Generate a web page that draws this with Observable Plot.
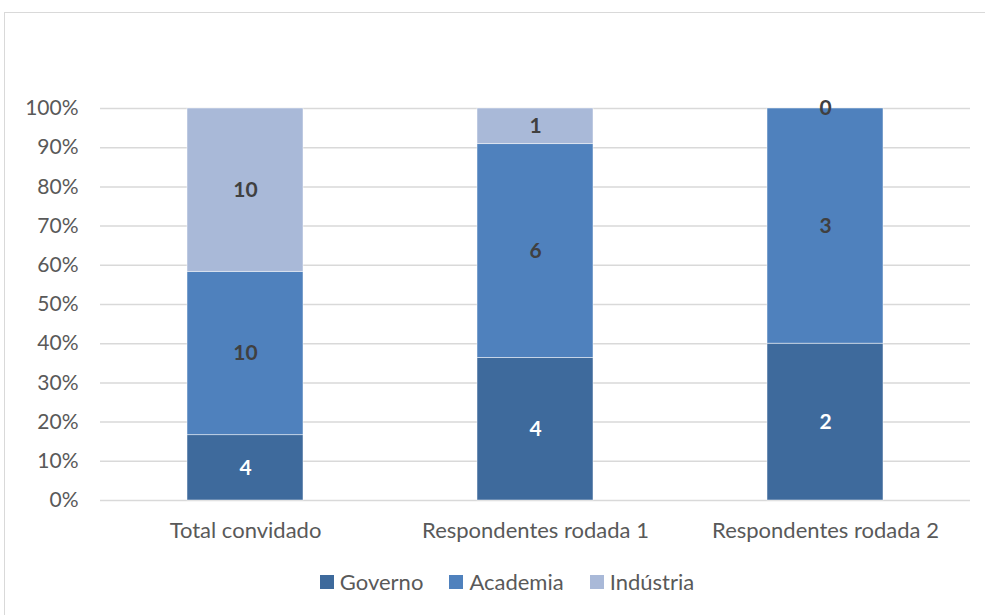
<!DOCTYPE html>
<html>
<head>
<meta charset="utf-8">
<script src="https://cdn.jsdelivr.net/npm/d3@7"></script>
<script src="https://cdn.jsdelivr.net/npm/@observablehq/plot@0.6"></script>
<style>
  html, body { margin: 0; padding: 0; background: #fff; }
  body { width: 985px; height: 615px; position: relative; overflow: hidden; font-family: Lato, "Open Sans", sans-serif; }
  #frame { position: absolute; left: 4px; top: 12px; width: 1000px; height: 620px; border: 1.5px solid #d9d9d9; box-sizing: border-box; }
  #chart { position: absolute; left: 0; top: 0; }
  #legend { position: absolute; top: 568px; left: 0; width: 1014px; display: flex; justify-content: center; gap: 26px; font-size: 22px; color: #595959; }
  #legend .item { display: flex; align-items: center; gap: 6px; }
  #legend .sw { width: 14px; height: 14px; display: inline-block; }
</style>
</head>
<body>
<div id="frame"></div>
<div id="chart"></div>
<div id="legend"></div>
<script>
const categories = ["Total convidado", "Respondentes rodada 1", "Respondentes rodada 2"];
const seriesNames = ["Governo", "Academia", "Indústria"];
const governo = [4, 4, 2];
const academia = [10, 6, 3];
const industria = [10, 1, 0];
const colors = ["#3E6A9C", "#4F81BD", "#A9B9D8"];
const labelColors = ["#ffffff", "#404040", "#404040"];
const yTicks = [0, 0.1, 0.2, 0.3, 0.4, 0.5, 0.6, 0.7, 0.8, 0.9, 1.0];

const seriesValues = [governo, academia, industria];
const data = [];
seriesNames.forEach((s, si) => {
  categories.forEach((c, ci) => {
    data.push({category: c, series: s, value: seriesValues[si][ci], si});
  });
});

const plot = Plot.plot({
  width: 985,
  height: 545,
  marginTop: 108,
  marginBottom: 45,
  marginLeft: 100,
  marginRight: 15,
  style: {fontFamily: "Lato, 'Open Sans', sans-serif", color: "#595959", background: "transparent"},
  x: {domain: categories, paddingInner: 0.6, paddingOuter: 0.3, label: null, axis: null},
  y: {domain: [0, 1], label: null, axis: null},
  color: {domain: seriesNames, range: colors},
  marks: [
    Plot.ruleY(yTicks, {stroke: "#d9d9d9", strokeWidth: 1.5}),
    Plot.barY(data, Plot.stackY({offset: "normalize", order: null}, {
      x: "category", y: "value", fill: "series", stroke: "#ffffff", strokeWidth: 0.8, strokeOpacity: 0.6
    })),
    Plot.text(data, Plot.stackY({offset: "normalize", order: null}, {
      x: "category", y: "value", text: d => String(d.value),
      fill: d => labelColors[d.si], fontWeight: "bold", fontSize: 21
    })),
    Plot.axisX({tickSize: 0, tickPadding: 22, fontSize: 22, fill: "#595959", label: null}),
    Plot.axisY({ticks: yTicks, tickFormat: d3.format(".0%"), tickSize: 0, tickPadding: 22, fontSize: 21, fill: "#595959", label: null})
  ]
});
document.getElementById("chart").appendChild(plot);

const legend = document.getElementById("legend");
seriesNames.forEach((s, i) => {
  const item = document.createElement("div");
  item.className = "item";
  const sw = document.createElement("span");
  sw.className = "sw";
  sw.style.background = colors[i];
  const t = document.createElement("span");
  t.textContent = s;
  item.appendChild(sw);
  item.appendChild(t);
  legend.appendChild(item);
});
</script>
</body>
</html>
